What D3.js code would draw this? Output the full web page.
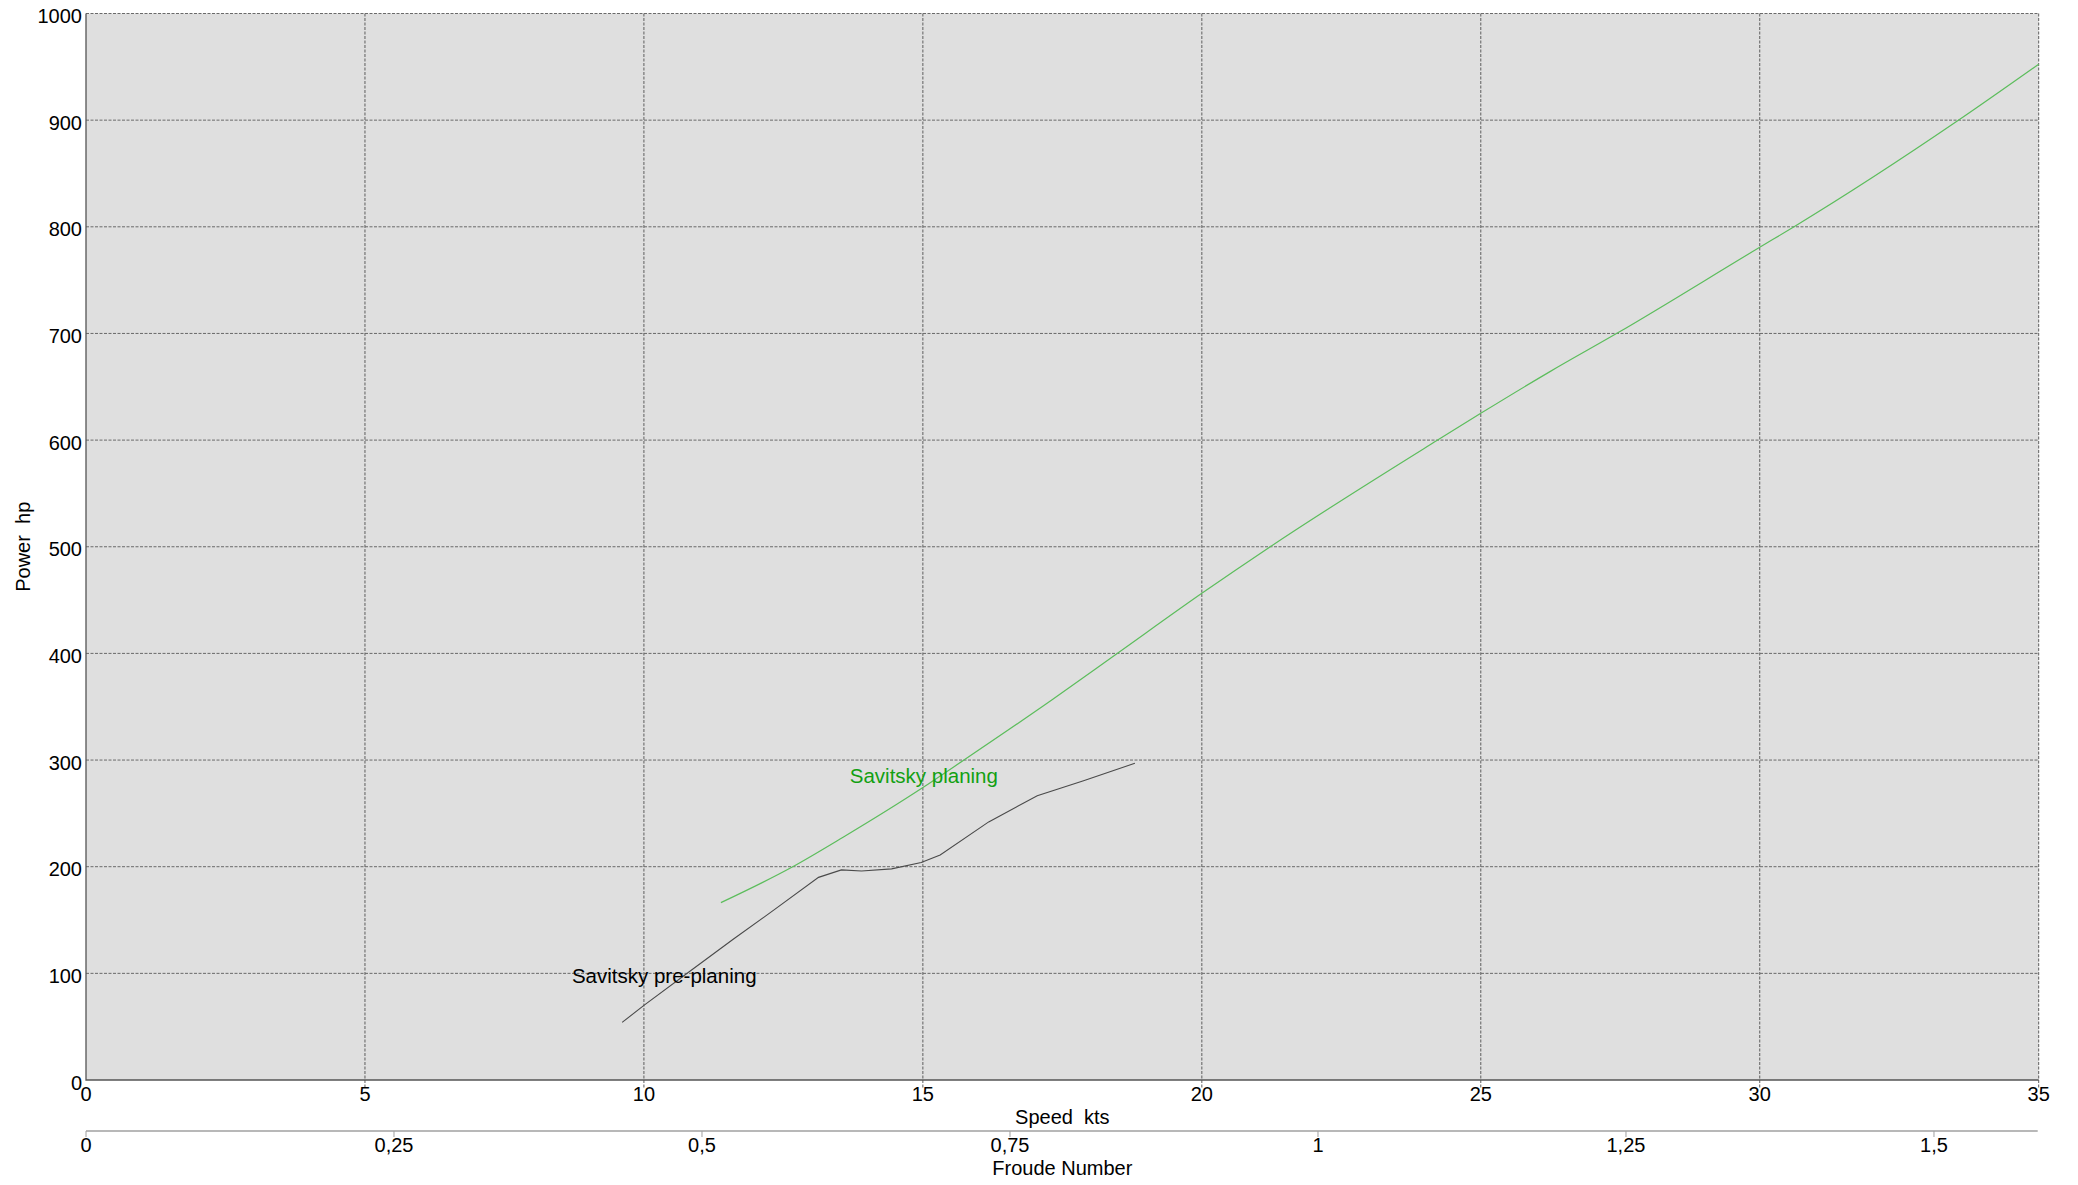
<!DOCTYPE html>
<html>
<head>
<meta charset="utf-8">
<script src="https://cdn.jsdelivr.net/npm/d3@7"></script>
<style>
  body { margin: 0; background: #fff; }
  text { font-family: Arial, "Liberation Sans", sans-serif; fill: #000; }
</style>
</head>
<body>
<div class="chart"></div>
<script>
// canvas size
const svgWidth = 2078;
const svgHeight = 1185;

const margin = {
  top: 13.5,
  right: 39.3,
  bottom: 105,
  left: 86
};

const width = svgWidth - margin.left - margin.right;
const height = svgHeight - margin.top - margin.bottom;

// data
const speedTicks = [0, 5, 10, 15, 20, 25, 30, 35];
const powerTicks = [0, 100, 200, 300, 400, 500, 600, 700, 800, 900, 1000];
const froudeTicks = [0, 0.25, 0.5, 0.75, 1, 1.25, 1.5];
const froudeAtMaxSpeed = 1.585;

const preplaningKts = [9.61, 10.0, 10.8, 11.6, 12.32, 13.13, 13.54, 13.9, 14.44, 14.97, 15.31, 16.18, 17.05, 17.88, 18.80];
const preplaningHp = [54, 70, 101, 132, 159, 190, 197, 196, 198, 204, 211, 242, 266.5, 280.5, 297];

const planingKts = [11.38, 12.65, 13.57, 14.98, 15.73, 17.31, 18.47, 20, 21.22, 24.22, 25, 26.24, 27.44, 30, 30.63, 33.56, 35];
const planingHp = [166.3, 199.4, 227.6, 273.5, 299.8, 356.3, 399.4, 456.3, 499.8, 599.8, 625.1, 664.2, 700.1, 780.8, 800.5, 899.8, 952.4];

const seriesNames = ["Savitsky pre-planing", "Savitsky planing"];
const labelKts = [8.71, 13.69];
const labelHp = [90.7, 278.2];

// comma decimals like the original
const locale = d3.formatLocale({ decimal: ",", thousands: ".", grouping: [3], currency: ["", ""] });
const fmt = locale.format("~g");

const fontSize = "20px";

// append svg and group
const svg = d3.select(".chart")
  .append("svg")
  .attr("width", svgWidth)
  .attr("height", svgHeight);

const chartGroup = svg.append("g")
  .attr("transform", `translate(${margin.left}, ${margin.top})`);

// scales
const xScale = d3.scaleLinear()
  .domain([0, 35])
  .range([0, width]);

const yScale = d3.scaleLinear()
  .domain([0, 1000])
  .range([height, 0]);

const froudeScale = d3.scaleLinear()
  .domain([0, froudeAtMaxSpeed])
  .range([0, width]);

// background
chartGroup.append("rect")
  .attr("width", width)
  .attr("height", height)
  .attr("fill", "#dfdfdf");

// grid
chartGroup.selectAll(".vgrid")
  .data(speedTicks.slice(1))
  .enter()
  .append("line")
  .attr("x1", d => xScale(d))
  .attr("x2", d => xScale(d))
  .attr("y1", 0)
  .attr("y2", height + 9)
  .attr("stroke", "#5e5e5e")
  .attr("stroke-width", 1)
  .attr("stroke-dasharray", "3,1.5");

chartGroup.selectAll(".hgrid")
  .data(powerTicks.slice(1))
  .enter()
  .append("line")
  .attr("x1", 0)
  .attr("x2", width)
  .attr("y1", d => yScale(d))
  .attr("y2", d => yScale(d))
  .attr("stroke", "#6a6a6a")
  .attr("stroke-width", 1)
  .attr("stroke-dasharray", "3,1.5");

// left and bottom frame
chartGroup.append("path")
  .attr("d", `M0,0V${height}H${width}`)
  .attr("fill", "none")
  .attr("stroke", "#555")
  .attr("stroke-width", 1.3);

// y tick labels
chartGroup.selectAll(".ylab")
  .data(powerTicks)
  .enter()
  .append("text")
  .attr("x", -4)
  .attr("y", d => yScale(d) + 9.5)
  .attr("text-anchor", "end")
  .attr("font-size", fontSize)
  .text(d => d);

// x (speed) tick labels
chartGroup.selectAll(".xlab")
  .data(speedTicks)
  .enter()
  .append("text")
  .attr("x", d => xScale(d))
  .attr("y", height + 20.5)
  .attr("text-anchor", "middle")
  .attr("font-size", fontSize)
  .text(d => d);

chartGroup.append("text")
  .attr("x", width / 2)
  .attr("y", height + 43.5)
  .attr("text-anchor", "middle")
  .attr("font-size", fontSize)
  .style("white-space", "pre")
  .text("Speed  kts");

// y title
chartGroup.append("text")
  .attr("transform", `translate(${30 - margin.left}, ${height / 2}) rotate(-90)`)
  .attr("text-anchor", "middle")
  .attr("font-size", fontSize)
  .style("white-space", "pre")
  .text("Power  hp");

// froude axis
const froudeY = 1131 - margin.top;

chartGroup.append("line")
  .attr("x1", 0)
  .attr("x2", width - 1)
  .attr("y1", froudeY)
  .attr("y2", froudeY)
  .attr("stroke", "#a0a0a0")
  .attr("stroke-width", 1.5);

chartGroup.selectAll(".ftick")
  .data(froudeTicks)
  .enter()
  .append("line")
  .attr("x1", d => froudeScale(d))
  .attr("x2", d => froudeScale(d))
  .attr("y1", froudeY)
  .attr("y2", froudeY + 6)
  .attr("stroke", "#a0a0a0")
  .attr("stroke-width", 1);

chartGroup.selectAll(".flab")
  .data(froudeTicks)
  .enter()
  .append("text")
  .attr("x", d => froudeScale(d))
  .attr("y", froudeY + 20.5)
  .attr("text-anchor", "middle")
  .attr("font-size", fontSize)
  .text(d => fmt(d));

chartGroup.append("text")
  .attr("x", width / 2)
  .attr("y", froudeY + 44)
  .attr("text-anchor", "middle")
  .attr("font-size", fontSize)
  .text("Froude Number");

// line generators
const preLine = d3.line()
  .x((d, i) => xScale(preplaningKts[i]))
  .y(d => yScale(d));

const planLine = d3.line()
  .x((d, i) => xScale(planingKts[i]))
  .y(d => yScale(d))
  .curve(d3.curveMonotoneX);

chartGroup.append("path")
  .attr("d", planLine(planingHp))
  .attr("fill", "none")
  .attr("stroke", "#5cbd5c")
  .attr("stroke-width", 1.2);

chartGroup.append("path")
  .attr("d", preLine(preplaningHp))
  .attr("fill", "none")
  .attr("stroke", "#4a4a4a")
  .attr("stroke-width", 1.1);

// series labels
const labelColors = ["#000", "#12a012"];
chartGroup.selectAll(".slab")
  .data(seriesNames)
  .enter()
  .append("text")
  .attr("x", (d, i) => xScale(labelKts[i]))
  .attr("y", (d, i) => yScale(labelHp[i]))
  .attr("font-size", "20.5px")
  .style("fill", (d, i) => labelColors[i])
  .text(d => d);
</script>
</body>
</html>
